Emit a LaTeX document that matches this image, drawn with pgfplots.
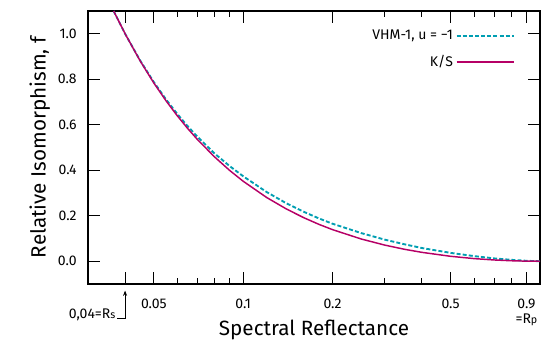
\documentclass[border=0pt]{standalone}
\usepackage{pgfplots}
\pgfplotsset{compat=1.18}
\usepackage{fontspec}
\setmainfont{Fira Sans}
\usetikzlibrary{calc,arrows.meta}
\definecolor{vhm}{RGB}{0,158,178}
\definecolor{ks}{RGB}{182,0,102}
\begin{document}
\begin{tikzpicture}
\begin{axis}[
  scale only axis,
  width=339pt, height=204.75pt,
  xmode=log,
  xmin=0.03, xmax=1.0,
  ymin=-0.1, ymax=1.1,
  xtick={0.04,0.05,0.1,0.2,0.5,0.9},
  xticklabels={,0.05,0.1,0.2,0.5,0.9},
  minor xtick={0.06,0.07,0.08,0.09,0.3,0.4,0.6,0.7,0.8},
  ytick={0,0.2,0.4,0.6,0.8,1.0},
  yticklabel style={/pgf/number format/fixed,/pgf/number format/fixed zerofill,/pgf/number format/precision=1, xshift=-5pt},
  /pgf/number format/assume math mode=true,
  tick align=inside,
  major tick length=9pt,
  minor tick length=4.5pt,
  tick style={black, line width=0.6pt},
  axis line style={black, line width=0.8pt},
  ticklabel style={font=\fontsize{10.5}{12}\selectfont},
  xticklabel style={yshift=-8pt},
  xlabel={Spectral Reflectance},
  ylabel={Relative Isomorphism, f},
  label style={font=\fontsize{15.5}{18}\selectfont},
  xlabel style={yshift=-1pt},
  ylabel style={yshift=-1pt},
  legend style={draw=none, fill=none, inner sep=0pt, at={(0.945,0.94)}, anchor=north east,
    font=\fontsize{10.5}{13}\selectfont, row sep=6pt},
  legend plot pos=right,
  legend cell align=right,
  legend image code/.code={\draw[#1] (5pt,0pt) -- (48pt,0pt);},
  clip=false,
]
\addplot[vhm, line width=1.4pt, dash pattern=on 3pt off 1.6pt] coordinates {
(0.03661,1.1) (0.04,1.0000) (0.045,0.8817) (0.05,0.7874) (0.055,0.7107)
(0.06,0.6472) (0.065,0.5937) (0.07,0.5483) (0.08,0.4742) (0.09,0.4184)
(0.1,0.3736) (0.12,0.3041) (0.14,0.2543) (0.16,0.2174) (0.18,0.1881)
(0.2,0.1649) (0.25,0.1237) (0.3,0.0949) (0.35,0.0744) (0.4,0.0581)
(0.5,0.0367) (0.6,0.0226) (0.7,0.0126) (0.8,0.0062) (0.9,0.0020) (1.0,0.0)
};
\addlegendentry{VHM-1, u = −1}
\addplot[ks, line width=1.1pt] coordinates {
(0.03661,1.1) (0.04,1.0000) (0.045,0.8797) (0.05,0.7834) (0.055,0.7047)
(0.06,0.6392) (0.065,0.5837) (0.07,0.5363) (0.08,0.4592) (0.09,0.3994)
(0.1,0.3516) (0.12,0.2801) (0.14,0.2293) (0.16,0.1914) (0.18,0.1621)
(0.2,0.1389) (0.25,0.0977) (0.3,0.0709) (0.35,0.0524) (0.4,0.0391)
(0.5,0.0217) (0.6,0.0116) (0.7,0.0056) (0.8,0.0022) (0.9,0.0005) (1.0,0.0)
};
\addlegendentry{K/S}
\coordinate (xs) at (axis cs:0.04,0);
\coordinate (xs2) at (axis cs:0.0376,0);
\coordinate (xs3) at (axis cs:0.0372,0);
\coordinate (xp) at (axis cs:0.9,0);
\coordinate (yb) at (axis description cs:0,-0.1245);
\coordinate (yt) at (axis description cs:0,-0.024);
\coordinate (ytx) at (axis description cs:0,-0.128);
\coordinate (ypx) at (axis description cs:0,-0.145);
\draw[line width=0.6pt, -{Stealth[length=4pt,width=3pt]}] (xs2|-yb) -- (xs|-yb) -- (xs|-yt);
\node[anchor=base east, inner sep=0pt, font=\fontsize{10.5}{12}\selectfont] at (xs3|-ytx) {0,04=R{\fontsize{8}{10}\selectfont s}};
\node[anchor=base, inner sep=0pt, font=\fontsize{10.5}{12}\selectfont] at (xp|-ypx) {=R{\fontsize{8}{10}\selectfont p}};
\end{axis}
\pgfresetboundingbox
\path[use as bounding box] ($(current axis.south west)+(-66pt,-45pt)$) rectangle ($(current axis.north east)+(0.75pt,8.25pt)$);
\end{tikzpicture}
\end{document}
